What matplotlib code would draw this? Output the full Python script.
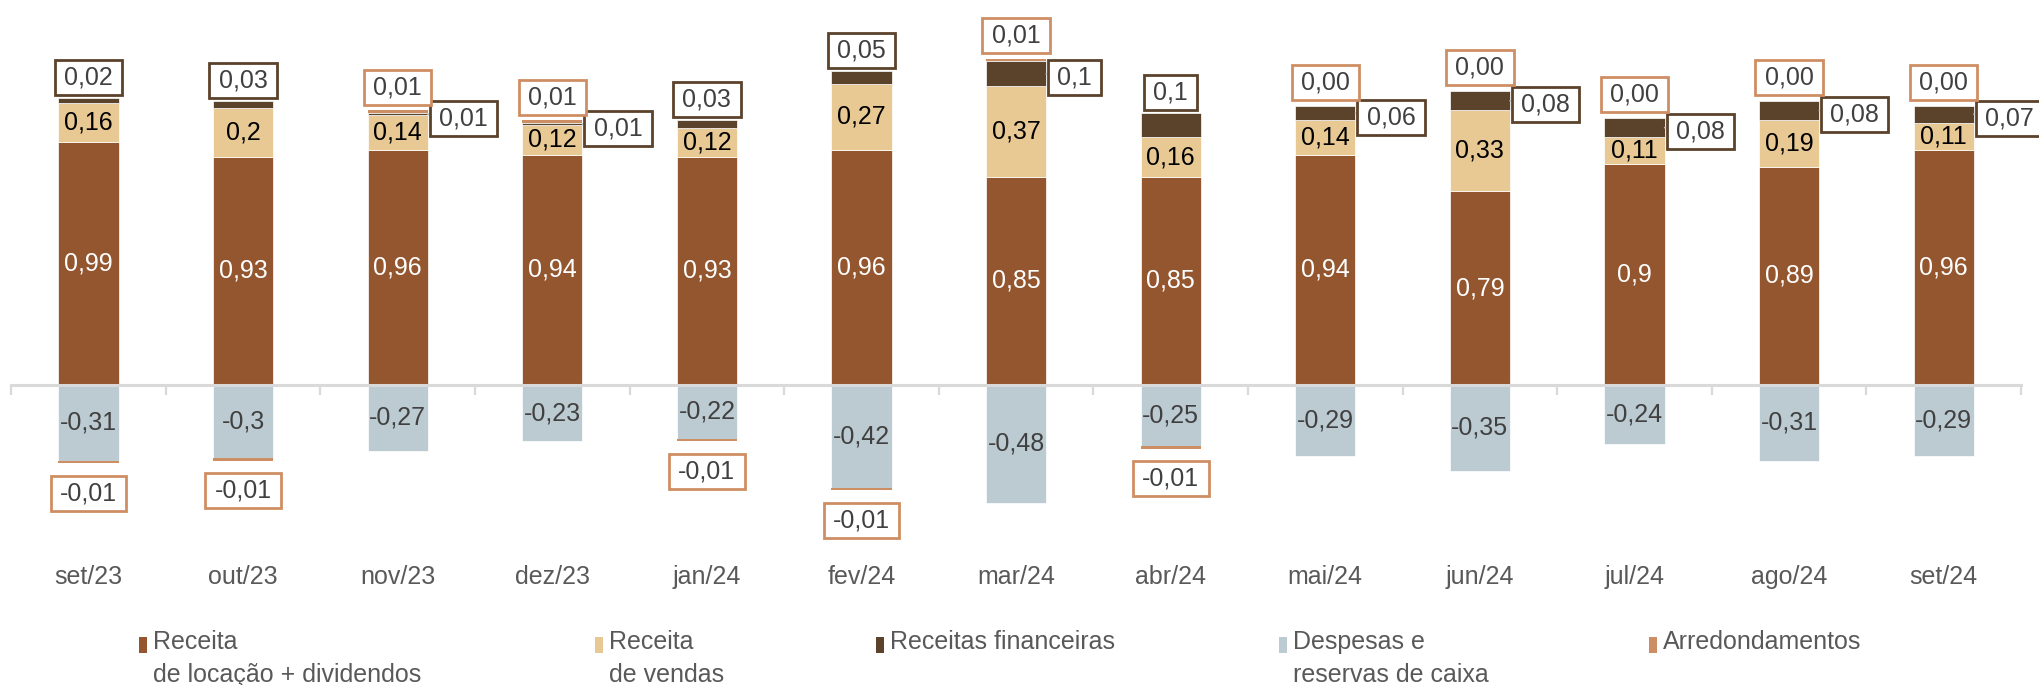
import numpy as np
import matplotlib.pyplot as plt
from matplotlib.patches import Rectangle
from matplotlib.path import Path

plt.rcParams['font.family'] = ['Liberation Sans', 'DejaVu Sans']

meses = ['set/23', 'out/23', 'nov/23', 'dez/23', 'jan/24', 'fev/24', 'mar/24',
         'abr/24', 'mai/24', 'jun/24', 'jul/24', 'ago/24', 'set/24']
locacao = np.array([0.99, 0.93, 0.96, 0.94, 0.93, 0.96, 0.85, 0.85, 0.94, 0.79, 0.90, 0.89, 0.96])
vendas = np.array([0.16, 0.20, 0.14, 0.12, 0.12, 0.27, 0.37, 0.16, 0.14, 0.33, 0.11, 0.19, 0.11])
financeiras = np.array([0.02, 0.03, 0.01, 0.01, 0.03, 0.05, 0.10, 0.10, 0.06, 0.08, 0.08, 0.08, 0.07])
despesas = np.array([-0.31, -0.30, -0.27, -0.23, -0.22, -0.42, -0.48, -0.25, -0.29, -0.35, -0.24, -0.31, -0.29])
arredond = np.array([-0.01, -0.01, 0.01, 0.01, -0.01, -0.01, 0.01, -0.01, 0.00, 0.00, 0.00, 0.00, 0.00])

legenda = ['Receita\nde locação + dividendos', 'Receita\nde vendas', 'Receitas financeiras',
           'Despesas e\nreservas de caixa', 'Arredondamentos']

c_loc = '#93562F'
c_ven = '#E8C994'
c_fin = '#5B422B'
c_des = '#BCCAD2'
c_arr = '#CE8E64'
cores = [c_loc, c_ven, c_fin, c_des, c_arr]
cinza = '#404040'
fs = 18


def fmt(v):
    s = f'{v:.2f}'.rstrip('0').rstrip('.')
    return s.replace('.', ',')


def fmt2(v):
    return f'{v:.2f}'.replace('.', ',')


def caixa_estilo(x0, y0, width, height, mutation_size):
    # wider horizontal padding than vertical, like the spreadsheet callouts
    px, py = 0.37 * mutation_size, 0.22 * mutation_size
    x1, y1 = x0 + width + px, y0 + height + py
    x0, y0 = x0 - px, y0 - py
    return Path([(x0, y0), (x1, y0), (x1, y1), (x0, y1), (x0, y0)], closed=True)


def caixa(cor):
    return dict(boxstyle=caixa_estilo, fc='white', ec=cor, lw=2)


x = np.arange(len(meses))
w = 0.39

fig = plt.figure(figsize=(20.4, 6.85), dpi=100)
ax = fig.add_axes([11.2 / 2040, 1 - 540 / 685, 2009.8 / 2040, 540 / 685])
ax.set_xlim(-0.5, 12.5)
ax.set_ylim(-0.633, 1.571)

# stacked segments
arr_pos = np.where(arredond > 0, arredond, 0)
arr_neg = np.where(arredond < 0, arredond, 0)
b_ven = locacao
b_fin = locacao + vendas
b_arr = b_fin + financeiras
kw = dict(width=w, edgecolor='white', linewidth=0.5)
ax.bar(x, locacao, color=c_loc, **kw)
ax.bar(x, vendas, bottom=b_ven, color=c_ven, **kw)
ax.bar(x, financeiras, bottom=b_fin, color=c_fin, **kw)
ax.bar(x, arr_pos, bottom=b_arr, color=c_arr, width=w, linewidth=0)
ax.bar(x, despesas, color=c_des, **kw)
ax.bar(x, arr_neg, bottom=despesas, color=c_arr, width=w, linewidth=0)

# zero line with category separators
for s in ['top', 'right', 'left']:
    ax.spines[s].set_visible(False)
ax.spines['bottom'].set_position(('data', 0))
ax.spines['bottom'].set_color('#d9d9d9')
ax.spines['bottom'].set_linewidth(2.2)
ax.set_yticks([])
ax.set_xticks(np.arange(-0.5, 13, 1))
ax.tick_params(axis='x', length=7, width=1.6, color='#d9d9d9', labelbottom=False)

for xi, m in zip(x, meses):
    ax.text(xi, -0.0685, m, transform=ax.get_xaxis_transform(), ha='center',
            va='center', fontsize=fs, color='#595959')

# values inside the segments
for i, xi in enumerate(x):
    ax.text(xi, locacao[i] / 2, fmt(locacao[i]), ha='center', va='center',
            fontsize=fs, color='white')
    ax.text(xi, b_ven[i] + vendas[i] / 2, fmt(vendas[i]), ha='center', va='center',
            fontsize=fs, color='black')
    ax.text(xi, despesas[i] / 2, fmt(despesas[i]), ha='center', va='center',
            fontsize=fs, color=cinza)

# boxed labels for the thin segments
for i, xi in enumerate(x):
    topo_fin = b_arr[i]
    if arredond[i] < 0:
        ax.annotate(fmt(financeiras[i]), xy=(xi, topo_fin), xytext=(0, 6),
                    textcoords='offset points', ha='center', va='bottom',
                    fontsize=fs, color=cinza, bbox=caixa(c_fin))
        ax.annotate(fmt2(arredond[i]), xy=(xi, despesas[i] + arredond[i]), xytext=(0, -13),
                    textcoords='offset points', ha='center', va='top',
                    fontsize=fs, color=cinza, bbox=caixa(c_arr))
    else:
        ax.annotate(fmt(financeiras[i]), xy=(xi + w / 2, topo_fin - financeiras[i] / 2),
                    xytext=(8, -3), textcoords='offset points', ha='left', va='center',
                    fontsize=fs, color=cinza, bbox=caixa(c_fin),
                    arrowprops=dict(arrowstyle='-', color='#bfbfbf', lw=1.2,
                                    shrinkA=0, shrinkB=0))
        ax.annotate(fmt2(arredond[i]), xy=(xi, topo_fin + arredond[i]), xytext=(0, 8),
                    textcoords='offset points', ha='center', va='bottom',
                    fontsize=fs, color=cinza, bbox=caixa(c_arr))

# legend
leg_x = [139, 595, 876, 1279, 1649]
for px, txt, cor in zip(leg_x, legenda, cores):
    fig.add_artist(Rectangle((px / 2040, 1 - 653 / 685), 8 / 2040, 16 / 685,
                             transform=fig.transFigure, facecolor=cor, edgecolor='none'))
    fig.text((px + 14) / 2040, 1 - 630 / 685, txt, ha='left', va='top', fontsize=fs,
             color='#595959', linespacing=1.45)

fig.savefig('out.png', dpi=100)
